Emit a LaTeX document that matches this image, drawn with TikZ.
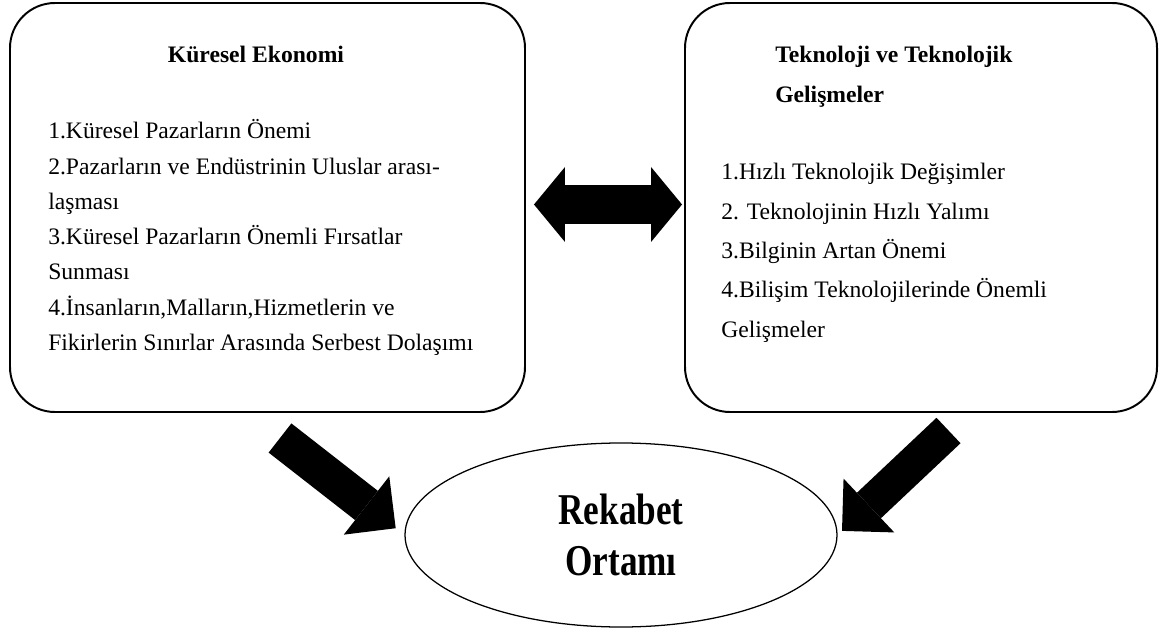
\documentclass[tikz,border=0pt]{standalone}
\usepackage{fontspec}
\setmainfont{Liberation Serif}
\usepackage{graphicx}
\usetikzlibrary{
  shapes.geometric,%
  arrows.meta,%
  positioning,
  calc
}
\tikzset{>=latex}
\tikzset{
  bigbox/.style={draw, line width=1.4pt, rounded corners=1.125cm, fill=white, inner sep=0pt},
  itemtext/.style={anchor=base west, inner sep=0pt, font=\fontsize{16.8}{20}\selectfont},
  headtext/.style={itemtext, font=\fontsize{16.8}{20}\selectfont\bfseries},
  fathead/.tip={Triangle[width=1.875cm, length=0.775cm, line width=0pt]},
  slanthead/.tip={Triangle[width=1.85cm, length=0.925cm, line width=0pt]}
}

\begin{document}
\begin{tikzpicture}
  \useasboundingbox (0,0) rectangle (29.075,15.725);
  % boxes and the ellipse
  \node[bigbox, minimum width=12.875cm, minimum height=10.225cm] (eco) at (6.6875,10.5375) {};
  \node[bigbox, minimum width=11.8cm, minimum height=10.225cm] (tech) at (23.025,10.5375) {};
  \node[ellipse, draw, line width=0.9pt, minimum width=10.8cm, minimum height=4.6cm,
    inner sep=0pt, align=center, font=\fontsize{31.3}{36.3}\selectfont\bfseries] (rek)
    at (15.525,2.35) {\scalebox{0.8}[1]{Rekabet}\\\scalebox{0.8}[1]{Ortamı}};
  % left box text
  \node[headtext, anchor=base] (ecotitle) at (6.4,14.15) {Küresel Ekonomi};
  \foreach \i/\t in {0/{1.Küresel Pazarların Önemi},
      1/{2.Pazarların ve Endüstrinin Uluslar arası-},
      2/{laşması},
      3/{3.Küresel Pazarların Önemli Fırsatlar},
      4/{Sunması},
      5/{4.İnsanların,Malların,Hizmetlerin ve},
      6/{Fikirlerin Sınırlar Arasında Serbest Dolaşımı}}
    \node[itemtext] (eco\i) at (1.2,12.25-0.88*\i) {\t};
  % right box text
  \node[headtext] (techtitle) at (19.375,14.15) {Teknoloji ve Teknolojik};
  \node[headtext] (techsub) at (19.375,13.15) {Gelişmeler};
  \foreach \i/\t in {0/{1.Hızlı Teknolojik Değişimler},
      1/{2. Teknolojinin Hızlı Yalımı},
      2/{3.Bilginin Artan Önemi},
      3/{4.Bilişim Teknolojilerinde Önemli},
      4/{Gelişmeler}}
    \node[itemtext] (tech\i) at (18.025,11.225-0.98125*\i) {\t};
  % block arrows
  \coordinate (ecotail) at (7.0,4.775);
  \coordinate (techtail) at (23.7125,4.9625);
  \draw[line width=0.975cm, fathead-fathead, shorten <=0.2cm, shorten >=0.05cm]
    ([yshift=0.075cm]eco.east) -- ([yshift=0.075cm]tech.west);
  \draw[line width=0.925cm, -slanthead, shorten >=0.275cm] (ecotail) -- (rek.west);
  \draw[line width=0.875cm, -slanthead, shorten >=0.15cm] (techtail) -- (rek.east);
\end{tikzpicture}
\end{document}
